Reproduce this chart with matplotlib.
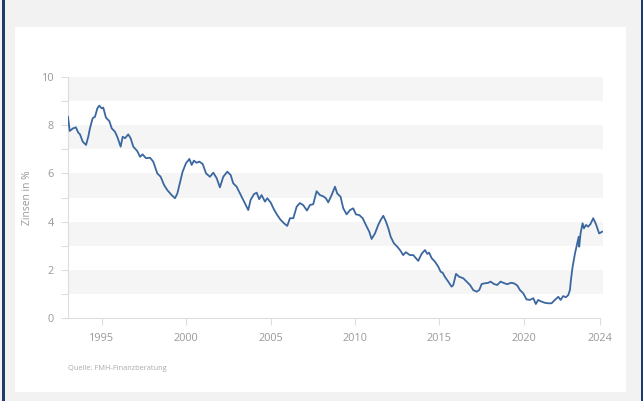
import matplotlib
matplotlib.use("Agg")
import matplotlib.pyplot as plt
from matplotlib.patches import Rectangle

years = [1993.00, 1993.10, 1993.30, 1993.47, 1993.60, 1993.71, 1993.87, 1994.07, 1994.20, 1994.30,
         1994.46, 1994.60, 1994.74, 1994.85, 1995.00, 1995.09, 1995.25, 1995.45, 1995.59, 1995.78,
         1995.92, 1996.12, 1996.24, 1996.38, 1996.57, 1996.71, 1996.87, 1997.10, 1997.27, 1997.42,
         1997.62, 1997.86, 1998.05, 1998.29, 1998.49, 1998.69, 1998.88, 1999.14, 1999.34, 1999.48,
         1999.63, 1999.79, 1999.99, 2000.19, 2000.33, 2000.46, 2000.62, 2000.78, 2000.98, 2001.18,
         2001.41, 2001.61, 2001.81, 2002.00, 2002.20, 2002.44, 2002.64, 2002.79, 2002.99, 2003.19,
         2003.39, 2003.59, 2003.68, 2003.82, 2004.02, 2004.18, 2004.33, 2004.47, 2004.67, 2004.81,
         2005.01, 2005.20, 2005.40, 2005.60, 2005.80, 2005.99, 2006.15, 2006.35, 2006.55, 2006.74,
         2006.94, 2007.16, 2007.34, 2007.53, 2007.73, 2007.93, 2008.12, 2008.28, 2008.42, 2008.62,
         2008.82, 2008.95, 2009.15, 2009.31, 2009.51, 2009.71, 2009.90, 2010.06, 2010.26, 2010.46,
         2010.65, 2010.85, 2010.99, 2011.19, 2011.38, 2011.53, 2011.68, 2011.84, 2011.98, 2012.12,
         2012.31, 2012.51, 2012.71, 2012.86, 2013.02, 2013.26, 2013.46, 2013.62, 2013.75, 2013.95,
         2014.15, 2014.29, 2014.40, 2014.55, 2014.74, 2014.94, 2015.08, 2015.20, 2015.33, 2015.53,
         2015.73, 2015.83, 2015.99, 2016.18, 2016.42, 2016.62, 2016.82, 2017.01, 2017.21, 2017.37,
         2017.51, 2017.70, 2017.90, 2018.04, 2018.24, 2018.43, 2018.63, 2018.83, 2019.03, 2019.23,
         2019.42, 2019.62, 2019.78, 2019.98, 2020.17, 2020.37, 2020.57, 2020.72, 2020.86, 2021.06,
         2021.26, 2021.45, 2021.65, 2021.85, 2022.05, 2022.19, 2022.34, 2022.50, 2022.64, 2022.74,
         2022.80, 2022.90, 2023.04, 2023.17, 2023.26, 2023.29, 2023.37, 2023.49, 2023.57, 2023.69,
         2023.82, 2023.96, 2024.12, 2024.28, 2024.47, 2024.65]
rates = [8.35, 7.76, 7.87, 7.91, 7.70, 7.62, 7.32, 7.18, 7.52, 7.87,
         8.29, 8.35, 8.70, 8.81, 8.70, 8.73, 8.31, 8.17, 7.87, 7.73,
         7.52, 7.11, 7.52, 7.46, 7.62, 7.46, 7.11, 6.93, 6.69, 6.79,
         6.63, 6.65, 6.49, 6.00, 5.86, 5.52, 5.31, 5.10, 4.97, 5.17,
         5.60, 6.07, 6.42, 6.60, 6.35, 6.53, 6.44, 6.49, 6.39, 6.00,
         5.86, 6.03, 5.80, 5.42, 5.86, 6.07, 5.93, 5.59, 5.45, 5.17,
         4.90, 4.62, 4.48, 4.90, 5.14, 5.20, 4.93, 5.10, 4.83, 4.97,
         4.79, 4.51, 4.27, 4.07, 3.93, 3.82, 4.14, 4.14, 4.62, 4.77,
         4.68, 4.46, 4.69, 4.72, 5.26, 5.10, 5.05, 4.97, 4.80, 5.10,
         5.45, 5.17, 5.03, 4.55, 4.30, 4.48, 4.55, 4.30, 4.27, 4.14,
         3.86, 3.58, 3.28, 3.51, 3.86, 4.07, 4.24, 4.00, 3.72, 3.37,
         3.10, 2.96, 2.78, 2.61, 2.73, 2.61, 2.61, 2.48, 2.37, 2.66,
         2.82, 2.66, 2.71, 2.48, 2.34, 2.13, 1.92, 1.88, 1.71, 1.51,
         1.30, 1.37, 1.83, 1.71, 1.65, 1.51, 1.37, 1.16, 1.09, 1.16,
         1.41, 1.44, 1.46, 1.51, 1.41, 1.37, 1.51, 1.45, 1.40, 1.46,
         1.44, 1.35, 1.16, 1.02, 0.77, 0.75, 0.82, 0.58, 0.75, 0.68,
         0.63, 0.61, 0.61, 0.75, 0.88, 0.75, 0.91, 0.86, 0.95, 1.16,
         1.58, 2.13, 2.68, 3.10, 3.37, 2.96, 3.51, 3.93, 3.72, 3.86,
         3.79, 3.90, 4.14, 3.90, 3.51, 3.58]

x_ticks = [1995, 2000, 2005, 2010, 2015, 2020, 2024.52]
x_tick_labels = ["1995", "2000", "2005", "2010", "2015", "2020", "2024"]
y_major = [0, 2, 4, 6, 8, 10]
y_minor = [1, 3, 5, 7, 9]
bands = [(1, 2), (3, 4), (5, 6), (7, 8), (9, 10)]

plt.rcParams['font.family'] = ['Open Sans', 'DejaVu Sans']

W, H = 643, 401
fig = plt.figure(figsize=(W / 100, H / 100), dpi=100, facecolor="#f2f2f2")

# white panel and dark borders
fig.patches.append(Rectangle((15 / W, 1 - 392 / H), (626 - 15) / W, (392 - 27) / H,
                             transform=fig.transFigure, facecolor="white", edgecolor="none", zorder=-10))
fig.patches.append(Rectangle((2 / W, 0), 3 / W, 1, transform=fig.transFigure,
                             facecolor="#1f3b6b", edgecolor="none", zorder=-9))
fig.patches.append(Rectangle((640.5 / W, 0), 3 / W, 1, transform=fig.transFigure,
                             facecolor="#1f3b6b", edgecolor="none", zorder=-9))

ax = fig.add_axes([68 / W, 1 - 318 / H, (603 - 68) / W, (318 - 77) / H])
ax.set_zorder(1)
ax.set_facecolor("none")
for lo, hi in bands:
    ax.axhspan(lo, hi, color="#f5f5f5", lw=0, zorder=0)

ax.plot(years, rates, color="#3b67a0", lw=1.3, zorder=3, solid_joinstyle="round")

ax.set_xlim(1993, 2024.7)
ax.set_ylim(0, 10)

for s in ["top", "right"]:
    ax.spines[s].set_visible(False)
ax.spines["left"].set_color("#dddddd")
ax.spines["bottom"].set_color("#dddddd")
ax.spines["left"].set_linewidth(0.8)
ax.spines["bottom"].set_linewidth(0.8)
ax.spines["bottom"].set_bounds(1993, 2024.52)

ax.set_xticks(x_ticks)
ax.set_xticklabels(x_tick_labels)
ax.set_yticks(y_major)
ax.set_yticks(y_minor, minor=True)
ax.tick_params(axis="both", which="both", colors="#dddddd", labelcolor="#999999", labelsize=7.8,
               width=0.8)
ax.tick_params(axis="x", length=5, pad=6)
ax.tick_params(axis="y", which="major", length=5, pad=5)
ax.tick_params(axis="y", which="minor", length=5)

ax.set_ylabel("Zinsen in %", color="#999999", fontsize=7.4)
ax.yaxis.set_label_coords((33 - 68) / 535, 0.5)

fig.text(68 / W, 1 - 369 / H, "Quelle: FMH-Finanzberatung", fontsize=5.3, color="#aaaaaa",
         ha="left", va="center")

fig.savefig("out.png", dpi=100, facecolor=fig.get_facecolor())
